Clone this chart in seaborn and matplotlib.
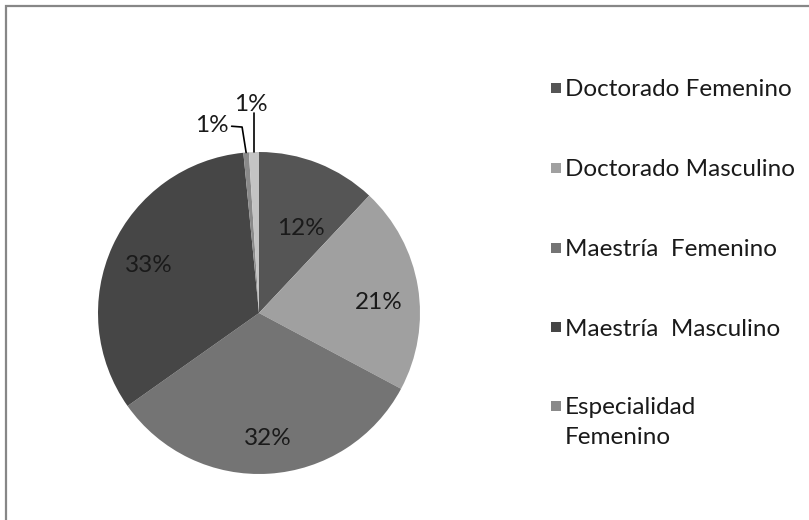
import numpy as np
import matplotlib
matplotlib.use("Agg")
import matplotlib.pyplot as plt
import seaborn as sns
from matplotlib.patches import Rectangle

sns.set_theme(style="white")
plt.rcParams['font.family'] = ['Lato', 'DejaVu Sans']

categories = ["Doctorado Femenino", "Doctorado Masculino", "Maestría  Femenino",
              "Maestría  Masculino", "Especialidad\nFemenino", "Especialidad Masculino"]
values = [12.0, 20.8, 32.4, 33.25, 0.55, 1.0]
colors = ["#555555", "#a0a0a0", "#747474", "#464646", "#8a8a8a", "#c4c4c4"]
legend_count = 5

W, H = 809, 520
FS = 17.5
TXT = "#1a1a1a"
fig = plt.figure(figsize=(W / 100, H / 100), dpi=100)

# outer chart frame (clipped at right and bottom like the reference)
fig.patches.append(Rectangle((6 / W, -0.1), 1.2, (H - 6) / H + 0.1,
                             transform=fig.transFigure, fill=False,
                             edgecolor="#878787", linewidth=1.6))

cx, cy, r = 259, 313, 161
ax = fig.add_axes([(cx - r) / W, (H - cy - r) / H, 2 * r / W, 2 * r / H])
wedges, _ = ax.pie(values, colors=colors, startangle=90, counterclock=False,
                   wedgeprops=dict(linewidth=0))
ax.set_xlim(-1, 1)
ax.set_ylim(-1, 1)
ax.set_aspect("equal")
ax.axis("off")

px = 1 / r  # one pixel in axes data units
total = sum(values)
label_dist = [0.62, 0.74, 0.77, 0.76]
label_shift = [(5, -8), (2, -9), (1, -2), (1, -3)]
for i, w in enumerate(wedges[:4]):
    ang = np.deg2rad((w.theta1 + w.theta2) / 2)
    d = label_dist[i]
    sx, sy = label_shift[i]
    ax.text(d * np.cos(ang) + sx * px, d * np.sin(ang) + sy * px,
            f"{values[i] / total * 100:.0f}%",
            ha="center", va="center", fontsize=FS, color=TXT)

# small slices: labels with leader lines
w4, w5 = wedges[4], wedges[5]
a4 = np.deg2rad((w4.theta1 + w4.theta2) / 2)
a5 = np.deg2rad((w5.theta1 + w5.theta2) / 2)
p4 = (np.cos(a4), np.sin(a4))
p5 = (np.cos(a5), np.sin(a5))
ax.plot([p4[0], p4[0] - 0.025, p4[0] - 0.09], [p4[1], 1.155, 1.16],
        color="black", lw=1.2, clip_on=False)
ax.text(p4[0] - 0.11, 1.165, f"{values[4] / total * 100:.0f}%", ha="right",
        va="center", fontsize=FS, color=TXT)
ax.plot([p5[0], p5[0]], [p5[1], 1.24], color="black", lw=1.2, clip_on=False)
ax.text(p5[0] - 0.02, 1.295, f"{values[5] / total * 100:.0f}%", ha="center",
        va="center", fontsize=FS, color=TXT)

# legend
ys = [88, 168, 248, 327, 406]
for i in range(legend_count):
    y = ys[i]
    fig.patches.append(Rectangle((551 / W, (H - y - 5) / H), 10 / W, 10 / H,
                                 transform=fig.transFigure, facecolor=colors[i],
                                 edgecolor="none"))
    for k, line in enumerate(categories[i].split("\n")):
        fig.text(565 / W, (H - y - 2 - 30 * k) / H, line, ha="left", va="center",
                 fontsize=FS, color=TXT)

fig.savefig("out.png", dpi=100)
